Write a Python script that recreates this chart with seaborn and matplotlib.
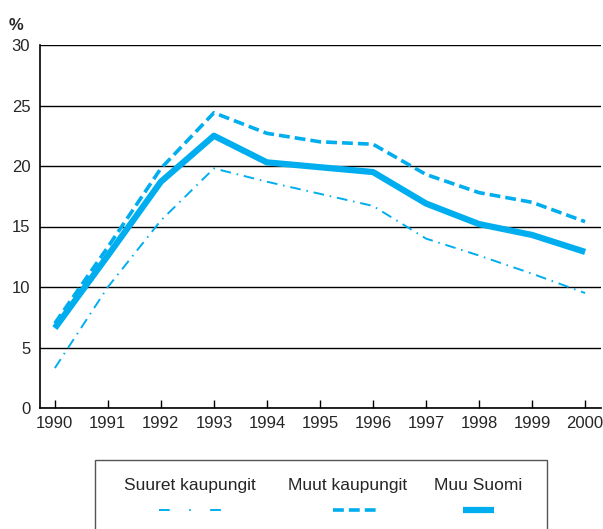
import pandas as pd
import matplotlib.pyplot as plt
import seaborn as sns
from matplotlib.lines import Line2D
from matplotlib.patches import Rectangle

# data
years = [1990, 1991, 1992, 1993, 1994, 1995, 1996, 1997, 1998, 1999, 2000]
suuret = [3.3, 10.0, 15.5, 19.8, 18.7, 17.7, 16.7, 14.0, 12.6, 11.1, 9.5]
muut = [7.0, 13.3, 19.8, 24.4, 22.7, 22.0, 21.8, 19.3, 17.8, 17.0, 15.4]
muu_suomi = [6.6, 12.6, 18.7, 22.5, 20.3, 19.9, 19.5, 16.9, 15.2, 14.3, 12.9]
series_names = ["Suuret kaupungit", "Muut kaupungit", "Muu Suomi"]

blue = "#00AEEF"
styles = {
    "Suuret kaupungit": dict(lw=1.4, ls=(0, (5.5, 3, 0.8, 3)), leg_ls=(0, (5.5, 10, 0.8, 10))),
    "Muut kaupungit": dict(lw=2.6, ls=(0, (3, 1.4)), leg_ls=(0, (3, 1.4))),
    "Muu Suomi": dict(lw=4.5, ls="-", leg_ls="-"),
}

df = pd.DataFrame({"Vuosi": years * 3,
                   "Arvo": suuret + muut + muu_suomi,
                   "Sarja": [n for n in series_names for _ in years]})

sns.set_style("white")
plt.rcParams["font.family"] = ["Liberation Sans", "DejaVu Sans"]

fig = plt.figure(figsize=(6.03, 5.29), dpi=100)
ax = fig.add_axes([40 / 603, 1 - 408 / 529, 561 / 603, 363 / 529])

for name in series_names:
    st = styles[name]
    sns.lineplot(data=df[df["Sarja"] == name], x="Vuosi", y="Arvo", ax=ax,
                 color=blue, linewidth=st["lw"], linestyle=st["ls"],
                 solid_capstyle="butt", legend=False, zorder=3)

ax.set_xlim(1989.72, 2000.3)
ax.set_ylim(0, 30)
ax.set_xticks(years)
ax.set_yticks(range(0, 31, 5))
ax.set_yticks([2.5, 7.5, 12.5, 17.5, 22.5, 27.5], minor=True)
ax.yaxis.grid(True, which="major", color="black", linewidth=1)
ax.xaxis.grid(False)
ax.set_xlabel("")
ax.set_ylabel("")
ax.tick_params(axis="y", which="major", direction="out", length=3, width=1,
               labelsize=12, pad=4, color="black")
ax.tick_params(axis="y", which="minor", direction="in", length=4, width=1, color="black")
ax.tick_params(axis="x", direction="in", length=6, width=1, labelsize=12, pad=6,
               color="black", bottom=True)
for s in ["top", "right"]:
    ax.spines[s].set_visible(False)
for s in ["left", "bottom"]:
    ax.spines[s].set_color("black")
    ax.spines[s].set_linewidth(1.2)

fig.text(16 / 603, 1 - 25 / 529, "%", fontsize=12, fontweight="bold",
         ha="center", va="center")

# legend box below the chart
fig.add_artist(Rectangle((95 / 603, -0.05), 452 / 603, 0.05 + 69 / 529,
                         transform=fig.transFigure, fill=False,
                         edgecolor="#555555", linewidth=1))
text_x = [190, 348, 478]
handle_x = [(159, 227), (333, 377), (463, 494)]
for name, tx, (h0, h1) in zip(series_names, text_x, handle_x):
    fig.text(tx / 603, 1 - 490 / 529, name, fontsize=12.5, ha="center", va="baseline")
    st = styles[name]
    fig.add_artist(Line2D([h0 / 603, h1 / 603], [1 - 510 / 529] * 2,
                          transform=fig.transFigure, color=blue,
                          linewidth=st["lw"], linestyle=st["leg_ls"],
                          solid_capstyle="butt"))

plt.savefig("out.png", dpi=100)
plt.close()
